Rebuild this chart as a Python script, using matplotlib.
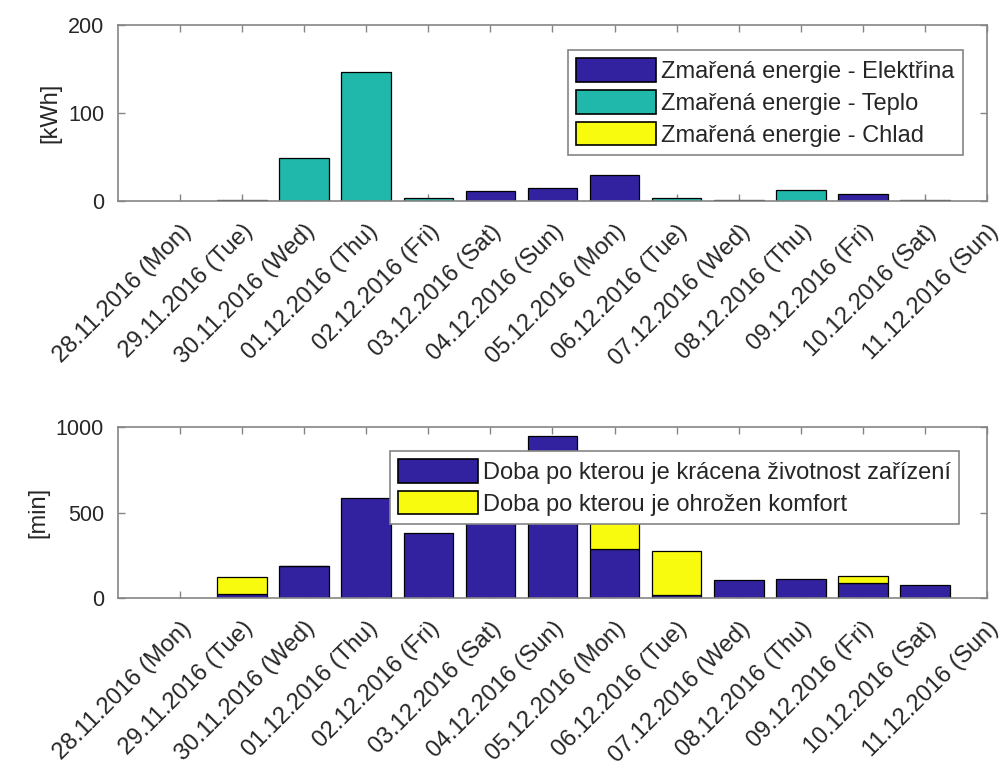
import numpy as np
import matplotlib
matplotlib.use("Agg")
from matplotlib import pyplot as plt
from matplotlib.patches import Patch
from matplotlib.transforms import ScaledTranslation

# days on the x axis
dates = ['28.11.2016 (Mon)', '29.11.2016 (Tue)', '30.11.2016 (Wed)',
         '01.12.2016 (Thu)', '02.12.2016 (Fri)', '03.12.2016 (Sat)',
         '04.12.2016 (Sun)', '05.12.2016 (Mon)', '06.12.2016 (Tue)',
         '07.12.2016 (Wed)', '08.12.2016 (Thu)', '09.12.2016 (Fri)',
         '10.12.2016 (Sat)', '11.12.2016 (Sun)']

# wasted energy [kWh]
elektrina = [0, 1, 0, 0, 0, 11, 15, 30, 0, 1.5, 0, 8, 1, 0]
teplo = [0, 0, 49, 147, 3, 0, 0, 0, 3, 0, 12, 0, 0, 0]
chlad = [0, 0, 0, 0, 0, 0, 0, 0, 0, 0, 0, 0, 0, 0]

# time [min]
zivotnost = [0, 23, 185, 586, 378, 520, 945, 287, 15, 108, 110, 87, 77, 0]
komfort = [0, 97, 5, 0, 0, 0, 0, 180, 262, 0, 0, 43, 0, 0]

labels_top = ['Zmařená energie - Elektřina', 'Zmařená energie - Teplo',
              'Zmařená energie - Chlad']
labels_bot = ['Doba po kterou je krácena životnost zařízení',
              'Doba po kterou je ohrožen komfort']

BLUE = '#3222a0'
TEAL = '#1fb8ab'
YELLOW = '#f9fb0e'
GRAY = '#858585'
TXT = '#262626'

plt.rcParams['font.family'] = ['Liberation Sans', 'DejaVu Sans']


def stacked(ax, x, series, colors):
    base = np.zeros(len(x))
    for vals, col in zip(series, colors):
        vals = np.asarray(vals, dtype=float)
        lw = [0.9 if v > 0 else 0 for v in vals]
        ax.bar(x, vals, 0.8, bottom=base, color=col, edgecolor='black',
               linewidth=lw, zorder=2)
        base = base + vals


def style_axes(ax, yticks, ylabel, fig):
    ax.set_xlim(0, len(dates))
    ax.set_ylim(yticks[0], yticks[-1])
    ax.set_yticks(yticks)
    ax.set_xticks(np.arange(1, len(dates) + 1))
    ax.set_xticklabels(dates, rotation=45, ha='right', va='top',
                       rotation_mode='anchor', fontsize=17, color=TXT)
    for lab in ax.get_xticklabels():
        lab.set_transform(lab.get_transform() +
                          ScaledTranslation(0.16, 0, fig.dpi_scale_trans))
    ax.tick_params(axis='both', direction='in', length=5, width=1,
                   color=GRAY, top=True, right=True, labelcolor=TXT)
    ax.tick_params(axis='y', labelsize=15.5, pad=10)
    ax.tick_params(axis='x', pad=14)
    for sp in ax.spines.values():
        sp.set_color(GRAY)
        sp.set_linewidth(1.2)
        sp.set_zorder(3)
    ax.set_ylabel(ylabel, fontsize=17, color=TXT, labelpad=5)


def legend(ax, labels, colors, anchor):
    handles = [Patch(facecolor=c, edgecolor='black', linewidth=1.2)
               for c in colors]
    leg = ax.legend(handles, labels, loc='upper right', bbox_to_anchor=anchor,
                    borderaxespad=0, fontsize=17, fancybox=False,
                    framealpha=1, edgecolor=GRAY, handlelength=3.4,
                    handleheight=1.15, handletextpad=0.2, labelspacing=0.3,
                    borderpad=0.35)
    leg.get_frame().set_linewidth(1.2)
    leg.set_zorder(5)
    for t in leg.get_texts():
        t.set_color(TXT)


def main():
    fig = plt.figure(figsize=(10.06, 7.75), dpi=100)
    ax1 = fig.add_axes([0.1173, 0.7406, 0.8638, 0.2271])
    ax2 = fig.add_axes([0.1173, 0.2284, 0.8638, 0.2206])

    x = np.arange(1, len(dates) + 1)

    stacked(ax1, x, [elektrina, teplo, chlad], [BLUE, TEAL, YELLOW])
    style_axes(ax1, [0, 100, 200], '[kWh]', fig)
    legend(ax1, labels_top, [BLUE, TEAL, YELLOW], (0.972, 0.858))

    stacked(ax2, x, [zivotnost, komfort], [BLUE, YELLOW])
    style_axes(ax2, [0, 500, 1000], '[min]', fig)
    legend(ax2, labels_bot, [BLUE, YELLOW], (0.968, 0.86))

    fig.savefig("out.png", dpi=100)


if __name__ == "__main__":
    main()
